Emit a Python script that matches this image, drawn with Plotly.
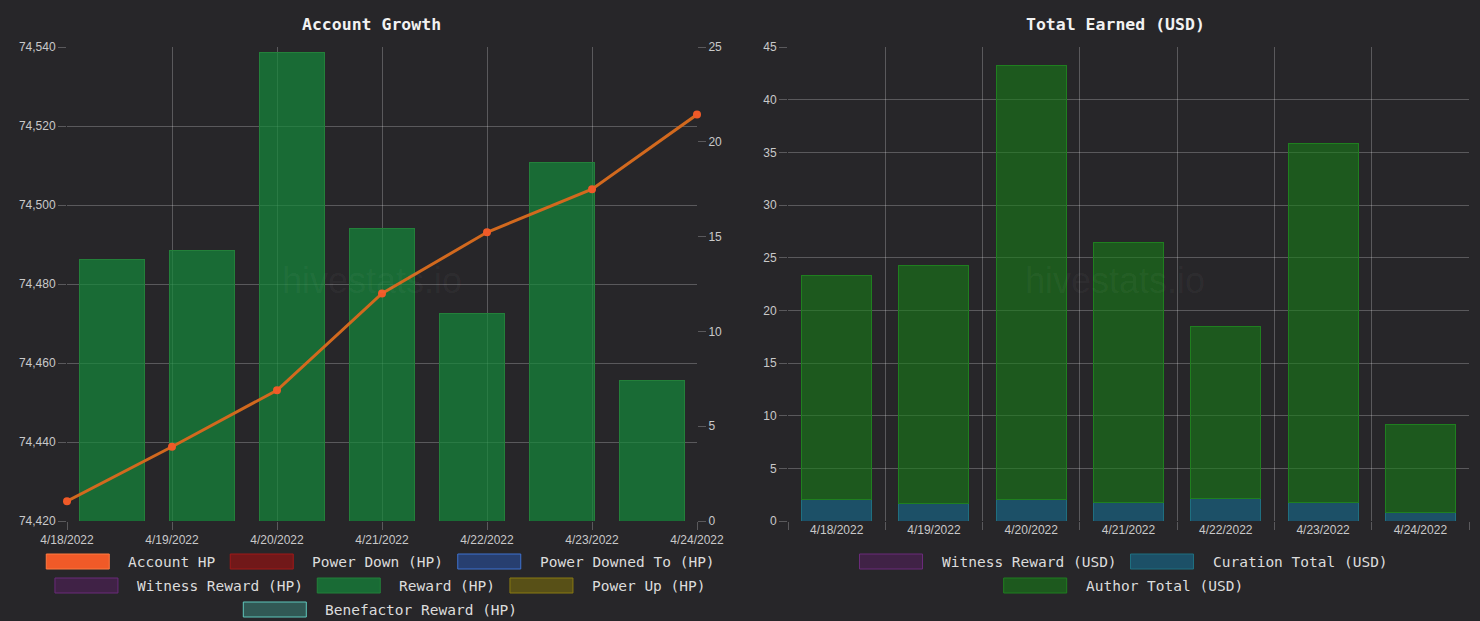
import plotly.graph_objects as go

# ---------------- data ----------------
dates = ["2022-04-18", "2022-04-19", "2022-04-20", "2022-04-21", "2022-04-22", "2022-04-23", "2022-04-24"]
date_labels = ["4/18/2022", "4/19/2022", "4/20/2022", "4/21/2022", "4/22/2022", "4/23/2022", "4/24/2022"]
account_hp = [74425.0, 74438.8, 74453.1, 74477.6, 74493.1, 74504.0, 74522.9]
reward_hp = [13.8, 14.25, 24.7, 15.45, 10.95, 18.9, 7.4]
witness_usd = [0, 0, 0, 0, 0, 0, 0]
curation_usd = [2.0, 1.68, 2.0, 1.8, 2.18, 1.77, 0.85]
author_usd = [21.26, 22.62, 41.25, 24.6, 16.33, 34.05, 8.35]

left_legend_labels = ["Account HP", "Power Down (HP)", "Power Downed To (HP)",
                      "Witness Reward (HP)", "Reward (HP)", "Power Up (HP)",
                      "Benefactor Reward (HP)"]
right_legend_labels = ["Witness Reward (USD)", "Curation Total (USD)", "Author Total (USD)"]

# ---------------- styles ----------------
W, H = 1480, 621
BG = "#272629"
GRID = "rgba(255,255,255,0.24)"
TICKFONT = dict(family="Liberation Sans, Arial, sans-serif", size=12, color="#c9c9c9")
MONO = "DejaVu Sans Mono, Liberation Mono, monospace"

left_colors = [("#f05a28", "#ff7a40"), ("rgba(139,20,20,0.75)", "#a01818"),
               ("rgba(40,70,130,0.8)", "#3f72d0"), ("rgba(90,30,100,0.5)", "#6a2a7a"),
               ("rgba(20,137,58,0.7)", "#23803a"), ("rgba(130,115,10,0.55)", "#8a7a12"),
               ("rgba(60,140,130,0.5)", "#5fc8bd")]
right_colors = [("rgba(90,30,100,0.5)", "#6a2a7a"), ("rgba(22,108,145,0.6)", "#1f6f80"),
                ("rgba(22,125,22,0.58)", "#1f7f1f")]


def px(x):
    return x / W


def py(y):
    return 1 - y / H


fig = go.Figure()

# left chart: reward bars (main subplot x/y) and account HP line (overlay x2/y2)
fig.add_trace(go.Bar(x=date_labels, y=reward_hp, xaxis="x", yaxis="y",
                     marker=dict(color=left_colors[4][0], line=dict(color=left_colors[4][1], width=1)),
                     name="Reward (HP)", showlegend=False, hoverinfo="x+y"))
fig.add_trace(go.Scatter(x=dates, y=account_hp, xaxis="x2", yaxis="y2", mode="lines+markers",
                         line=dict(color="#d2691e", width=3),
                         marker=dict(color="#f05a28", size=8),
                         cliponaxis=False,
                         name="Account HP", showlegend=False))

# right chart: stacked bars
fig.add_trace(go.Bar(x=date_labels, y=witness_usd, xaxis="x3", yaxis="y3",
                     marker=dict(color=right_colors[0][0], line=dict(width=0)),
                     name="Witness Reward (USD)", showlegend=False))
fig.add_trace(go.Bar(x=date_labels, y=curation_usd, xaxis="x3", yaxis="y3",
                     marker=dict(color=right_colors[1][0], line=dict(color=right_colors[1][1], width=1)),
                     name="Curation Total (USD)", showlegend=False))
fig.add_trace(go.Bar(x=date_labels, y=author_usd, xaxis="x3", yaxis="y3",
                     marker=dict(color=right_colors[2][0], line=dict(color=right_colors[2][1], width=1)),
                     name="Author Total (USD)", showlegend=False))

ydom = [py(521), py(47)]
left_dom = [px(67), px(697)]
right_dom = [px(788), px(1469)]

axis_common = dict(tickfont=TICKFONT, ticks="outside", ticklen=8, tickcolor=GRID,
                   gridcolor=GRID, gridwidth=1, zeroline=False, showline=False, automargin=False)
axis_nogrid = {k: v for k, v in axis_common.items() if k not in ("gridcolor", "gridwidth")}

fig.update_layout(
    template="none",
    width=W, height=H,
    margin=dict(l=0, r=0, t=0, b=0, pad=0, autoexpand=False),
    paper_bgcolor=BG, plot_bgcolor=BG,
    barmode="stack", bargap=0.28,
    showlegend=False,
    xaxis=dict(domain=left_dom, anchor="y", type="category", range=[-0.5, 6.5],
               showgrid=False, showticklabels=False, ticks="", zeroline=False, showline=False,
               automargin=False),
    yaxis=dict(domain=ydom, anchor="x", side="right", range=[0, 25], dtick=5,
               showgrid=False, **axis_nogrid),
    xaxis2=dict(overlaying="x", anchor="y2", side="bottom", type="date",
                range=[dates[0], dates[-1]], tick0=dates[0], dtick=86400000,
                tickformat="%-m/%-d/%Y", showgrid=True, **axis_common),
    yaxis2=dict(overlaying="y", anchor="x2", side="left", range=[74420, 74540], dtick=20,
                tickformat=",d", showgrid=True, **axis_common),
    xaxis3=dict(domain=right_dom, anchor="y3", type="category", range=[-0.5, 6.5],
                tickson="boundaries", showgrid=True, **axis_common),
    yaxis3=dict(domain=ydom, anchor="x3", range=[0, 45], dtick=5, showgrid=True, **axis_common),
)

annotations = []
# titles
annotations.append(dict(text="<b>Account Growth</b>", x=px(371), y=py(24.5), xref="paper", yref="paper",
                        showarrow=False, xanchor="center", yanchor="middle",
                        font=dict(family=MONO, size=16.5, color="#f2f2f2")))
annotations.append(dict(text="<b>Total Earned (USD)</b>", x=px(1115), y=py(24.5), xref="paper", yref="paper",
                        showarrow=False, xanchor="center", yanchor="middle",
                        font=dict(family=MONO, size=16.5, color="#f2f2f2")))
# watermarks
for cx in (372, 1115):
    annotations.append(dict(text="hivestats.io", x=px(cx), y=py(280), xref="paper", yref="paper",
                            showarrow=False, xanchor="center", yanchor="middle",
                            font=dict(family="Liberation Sans, Arial, sans-serif", size=36,
                                      color="rgba(255,255,255,0.045)")))

shapes = []
CHAR_W = 8.7
BOX_W, BOX_H, GAP, SEP = 63, 15, 17, 17


def draw_legend(labels, colors, rows, center_x, row_centers):
    for row, cy in zip(rows, row_centers):
        widths = [BOX_W + GAP + len(labels[i]) * CHAR_W for i in row]
        total = sum(widths) + SEP * (len(row) - 1)
        x = center_x - total / 2
        for i, w in zip(row, widths):
            fill, line = colors[i]
            shapes.append(dict(type="rect", xref="paper", yref="paper",
                               x0=px(x), x1=px(x + BOX_W), y0=py(cy + BOX_H / 2), y1=py(cy - BOX_H / 2),
                               fillcolor=fill, line=dict(color=line, width=1)))
            annotations.append(dict(text=labels[i], x=px(x + BOX_W + GAP), y=py(cy + 0.5),
                                    xref="paper", yref="paper", showarrow=False,
                                    xanchor="left", yanchor="middle",
                                    font=dict(family=MONO, size=14.5, color="#dcdcdc")))
            x += w + SEP


draw_legend(left_legend_labels, left_colors, [[0, 1, 2], [3, 4, 5], [6]], 379, [561.5, 585.5, 609.5])
draw_legend(right_legend_labels, right_colors, [[0, 1], [2]], 1122, [561.5, 585.5])

fig.update_layout(annotations=annotations, shapes=shapes)

fig.write_html("out.html", config={"displayModeBar": False},
               post_script="document.body.style.margin='0';document.body.style.background='%s';" % BG)
